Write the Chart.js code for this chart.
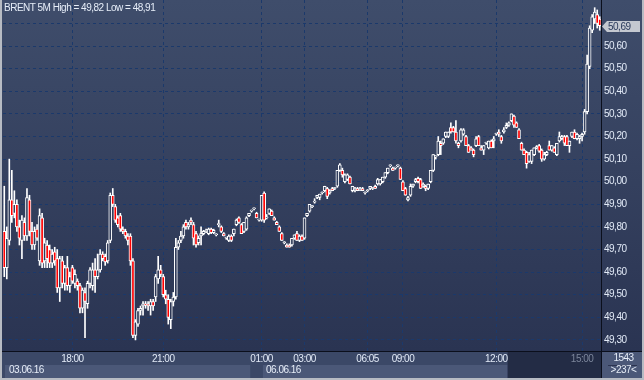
<!DOCTYPE html>
<html>
<head>
<meta charset="utf-8">
<script src="https://cdn.jsdelivr.net/npm/chart.js@4.4.1/dist/chart.umd.min.js"></script>
<style>
  html, body { margin: 0; padding: 0; background: #b7bbc3; }
  #wrap { position: relative; width: 644px; height: 380px; }
  #chart { position: absolute; left: 0; top: 0; }
  .txt { position: absolute; font-family: 'Liberation Sans', Arial, sans-serif; font-size: 10px;
         line-height: 12px; letter-spacing: -0.5px; color: #e6edf8; white-space: nowrap; }
</style>
</head>
<body>
<div id="wrap">
  <canvas id="chart" width="644" height="380"></canvas>
  <div class="txt" style="left:4px;top:2px">BRENT 5M High = 49,82 Low = 48,91</div>
  <div class="txt" style="left:9px;top:364px">03.06.16</div>
  <div class="txt" style="left:266px;top:364px">06.06.16</div>
  <div class="txt" style="left:603px;width:41px;text-align:center;top:352px">1543</div>
  <div style="position:absolute;left:608px;top:365px;width:29px;height:1px;background:#2b3350"></div>
  <div class="txt" style="left:603px;width:41px;text-align:center;top:364px">&gt;237&lt;</div>
</div>
<script>
// 5 minute candles, 15:40 on 03.06.16 .. 15:25 on 06.06.16
var opens = [
  49.78, 49.62, 49.74, 49.92, 49.86, 49.90, 49.80, 49.74, 49.82, 49.76,
  49.92, 49.78, 49.72, 49.79, 49.65, 49.84, 49.65, 49.72, 49.70, 49.64,
  49.69, 49.66, 49.53, 49.65, 49.55, 49.62, 49.54, 49.62, 49.55, 49.56,
  49.54, 49.44, 49.51, 49.46, 49.55, 49.54, 49.61, 49.58, 49.61, 49.68,
  49.67, 49.65, 49.74, 49.94, 49.89, 49.84, 49.85, 49.79, 49.78, 49.76,
  49.76, 49.65, 49.32, 49.37, 49.43, 49.45, 49.46, 49.46, 49.45, 49.47,
  49.49, 49.57, 49.61, 49.58, 49.50, 49.48, 49.39, 49.47, 49.49, 49.71,
  49.74, 49.76, 49.82, 49.80, 49.83, 49.81, 49.77, 49.73, 49.76, 49.77,
  49.78, 49.77, 49.79, 49.775, 49.765, 49.81, 49.80, 49.77, 49.75, 49.74,
  49.76, 49.77, 49.81, 49.84, 49.81, 49.78, 49.79, 49.85, 49.87, 49.88,
  49.86, 49.83, 49.83, 49.95, 49.84, 49.86, 49.87, 49.84, 49.82, 49.80,
  49.77, 49.73, 49.72, 49.72, 49.72, 49.75, 49.77, 49.74, 49.76, 49.75,
  49.85, 49.87, 49.89, 49.91, 49.93, 49.93, 49.95, 49.96, 49.97, 49.95,
  49.97, 49.97, 49.98, 50.05, 50.05, 50.00, 50.01, 50.02, 49.96, 49.965,
  49.97, 49.965, 49.97, 49.95, 49.96, 49.97, 49.97, 49.98, 49.99, 49.99,
  50.00, 50.02, 50.04, 50.07, 50.06, 50.06, 50.07, 50.06, 50.00, 49.97,
  49.92, 49.94, 49.98, 50.00, 50.015, 50.01, 49.98, 49.98, 49.97, 50.00,
  50.05, 50.11, 50.12, 50.17, 50.17, 50.20, 50.20, 50.24, 50.24, 50.22,
  50.17, 50.18, 50.21, 50.20, 50.16, 50.15, 50.14, 50.16, 50.20, 50.15,
  50.14, 50.17, 50.15, 50.18, 50.18, 50.21, 50.22, 50.20, 50.22, 50.24,
  50.25, 50.27, 50.29, 50.26, 50.23, 50.17, 50.14, 50.13, 50.09, 50.09,
  50.12, 50.15, 50.16, 50.14, 50.10, 50.12, 50.16, 50.14, 50.15, 50.12,
  50.18, 50.19, 50.20, 50.20, 50.16, 50.20, 50.22, 50.19, 50.19, 50.20,
  50.22, 50.31, 50.51, 50.67, 50.72, 50.74, 50.72
];
var highs = [
  49.98, 49.80, 50.10, 50.05, 49.96, 49.92, 49.83, 49.85, 49.84, 49.97,
  49.94, 49.82, 49.80, 49.81, 49.88, 49.86, 49.75, 49.74, 49.72, 49.70,
  49.71, 49.70, 49.67, 49.67, 49.63, 49.67, 49.60, 49.63, 49.61, 49.57,
  49.55, 49.53, 49.53, 49.56, 49.62, 49.64, 49.66, 49.68, 49.70, 49.69,
  49.68, 49.74, 49.95, 49.97, 49.90, 49.85, 49.86, 49.80, 49.79, 49.77,
  49.77, 49.66, 49.39, 49.44, 49.45, 49.47, 49.47, 49.47, 49.48, 49.48,
  49.59, 49.67, 49.63, 49.59, 49.52, 49.50, 49.48, 49.51, 49.75, 49.74,
  49.78, 49.81, 49.83, 49.82, 49.84, 49.82, 49.78, 49.76, 49.80, 49.785,
  49.79, 49.795, 49.795, 49.79, 49.77, 49.83, 49.805, 49.775, 49.755, 49.765,
  49.765, 49.79, 49.835, 49.845, 49.815, 49.82, 49.845, 49.86, 49.875, 49.885,
  49.865, 49.835, 49.94, 49.955, 49.855, 49.88, 49.875, 49.845, 49.825, 49.805,
  49.775, 49.735, 49.725, 49.725, 49.75, 49.765, 49.78, 49.765, 49.765, 49.84,
  49.86, 49.90, 49.895, 49.925, 49.94, 49.945, 49.955, 49.98, 49.975, 49.965,
  49.975, 49.975, 50.05, 50.08, 50.06, 50.035, 50.035, 50.025, 49.98, 49.975,
  49.975, 49.975, 49.975, 49.955, 49.965, 49.98, 49.975, 49.985, 50.015, 50.01,
  50.02, 50.04, 50.06, 50.075, 50.065, 50.065, 50.075, 50.065, 50.005, 49.975,
  49.935, 49.99, 49.99, 50.015, 50.02, 50.015, 49.995, 49.985, 49.99, 50.05,
  50.12, 50.115, 50.20, 50.18, 50.19, 50.22, 50.22, 50.26, 50.245, 50.27,
  50.175, 50.235, 50.235, 50.205, 50.165, 50.155, 50.145, 50.20, 50.205, 50.16,
  50.16, 50.175, 50.18, 50.185, 50.20, 50.215, 50.23, 50.205, 50.24, 50.26,
  50.265, 50.30, 50.295, 50.265, 50.235, 50.175, 50.145, 50.135, 50.13, 50.14,
  50.15, 50.16, 50.165, 50.145, 50.13, 50.135, 50.18, 50.16, 50.155, 50.17,
  50.22, 50.205, 50.205, 50.205, 50.18, 50.22, 50.23, 50.215, 50.205, 50.215,
  50.32, 50.56, 50.69, 50.74, 50.77, 50.76, 50.73
];
var lows = [
  49.58, 49.57, 49.72, 49.82, 49.84, 49.78, 49.72, 49.66, 49.74, 49.74,
  49.76, 49.70, 49.70, 49.74, 49.63, 49.62, 49.62, 49.62, 49.62, 49.62,
  49.63, 49.51, 49.47, 49.53, 49.52, 49.52, 49.51, 49.55, 49.53, 49.52,
  49.42, 49.42, 49.31, 49.44, 49.53, 49.52, 49.51, 49.57, 49.60, 49.65,
  49.63, 49.64, 49.73, 49.89, 49.82, 49.80, 49.78, 49.77, 49.75, 49.72,
  49.63, 49.31, 49.30, 49.36, 49.41, 49.41, 49.44, 49.43, 49.41, 49.43,
  49.47, 49.55, 49.58, 49.49, 49.46, 49.37, 49.35, 49.45, 49.48, 49.70,
  49.73, 49.75, 49.79, 49.79, 49.81, 49.72, 49.71, 49.72, 49.72, 49.765,
  49.775, 49.765, 49.77, 49.77, 49.76, 49.80, 49.775, 49.76, 49.745, 49.735,
  49.735, 49.76, 49.805, 49.815, 49.77, 49.775, 49.785, 49.845, 49.865, 49.875,
  49.84, 49.825, 49.825, 49.82, 49.835, 49.855, 49.85, 49.83, 49.81, 49.78,
  49.74, 49.725, 49.71, 49.71, 49.715, 49.745, 49.74, 49.735, 49.74, 49.745,
  49.845, 49.865, 49.885, 49.905, 49.925, 49.92, 49.945, 49.955, 49.925, 49.945,
  49.96, 49.965, 49.975, 50.045, 50.02, 49.995, 50.005, 49.99, 49.955, 49.955,
  49.96, 49.96, 49.96, 49.945, 49.955, 49.965, 49.965, 49.97, 49.985, 49.985,
  49.995, 50.015, 50.035, 50.065, 50.05, 50.055, 50.065, 50.01, 49.96, 49.94,
  49.915, 49.935, 49.975, 49.995, 49.995, 49.97, 49.975, 49.96, 49.965, 49.995,
  50.045, 50.10, 50.115, 50.12, 50.165, 50.195, 50.195, 50.215, 50.22, 50.17,
  50.15, 50.175, 50.205, 50.16, 50.13, 50.14, 50.11, 50.155, 50.16, 50.14,
  50.12, 50.165, 50.145, 50.15, 50.15, 50.205, 50.20, 50.17, 50.215, 50.235,
  50.245, 50.265, 50.24, 50.24, 50.19, 50.14, 50.12, 50.06, 50.085, 50.08,
  50.115, 50.145, 50.13, 50.09, 50.095, 50.115, 50.14, 50.135, 50.13, 50.115,
  50.175, 50.185, 50.16, 50.16, 50.13, 50.195, 50.19, 50.185, 50.17, 50.18,
  50.21, 50.30, 50.50, 50.66, 50.70, 50.68, 50.67
];
var closes = [
  49.62, 49.75, 49.92, 49.85, 49.90, 49.80, 49.75, 49.83, 49.76, 49.93,
  49.78, 49.72, 49.78, 49.75, 49.85, 49.64, 49.73, 49.66, 49.64, 49.68,
  49.65, 49.53, 49.66, 49.55, 49.62, 49.54, 49.58, 49.56, 49.59, 49.54,
  49.44, 49.52, 49.47, 49.55, 49.61, 49.61, 49.58, 49.61, 49.68, 49.66,
  49.645, 49.73, 49.94, 49.90, 49.83, 49.81, 49.79, 49.78, 49.76, 49.74,
  49.65, 49.32, 49.38, 49.43, 49.44, 49.46, 49.455, 49.45, 49.47, 49.45,
  49.58, 49.61, 49.59, 49.50, 49.48, 49.40, 49.47, 49.49, 49.71, 49.73,
  49.76, 49.80, 49.80, 49.81, 49.82, 49.75, 49.72, 49.75, 49.77, 49.78,
  49.785, 49.79, 49.775, 49.785, 49.765, 49.815, 49.78, 49.76, 49.75, 49.76,
  49.74, 49.79, 49.83, 49.82, 49.77, 49.82, 49.84, 49.86, 49.87, 49.88,
  49.84, 49.83, 49.94, 49.83, 49.84, 49.88, 49.85, 49.83, 49.81, 49.78,
  49.74, 49.73, 49.71, 49.71, 49.75, 49.765, 49.74, 49.76, 49.74, 49.84,
  49.86, 49.90, 49.89, 49.91, 49.94, 49.945, 49.95, 49.98, 49.935, 49.96,
  49.96, 49.97, 50.05, 50.075, 50.03, 50.03, 50.03, 49.99, 49.98, 49.97,
  49.96, 49.97, 49.96, 49.95, 49.96, 49.98, 49.97, 49.97, 50.01, 50.01,
  50.02, 50.04, 50.06, 50.07, 50.05, 50.06, 50.07, 50.01, 49.96, 49.94,
  49.93, 49.98, 49.99, 50.01, 50.00, 49.97, 49.99, 49.97, 49.99, 50.05,
  50.12, 50.11, 50.18, 50.16, 50.19, 50.22, 50.22, 50.22, 50.22, 50.18,
  50.16, 50.23, 50.23, 50.16, 50.13, 50.14, 50.12, 50.19, 50.16, 50.14,
  50.16, 50.17, 50.18, 50.15, 50.19, 50.21, 50.21, 50.18, 50.23, 50.25,
  50.26, 50.30, 50.25, 50.24, 50.19, 50.14, 50.12, 50.08, 50.12, 50.14,
  50.15, 50.155, 50.135, 50.10, 50.12, 50.13, 50.14, 50.16, 50.13, 50.17,
  50.20, 50.20, 50.17, 50.16, 50.18, 50.22, 50.19, 50.21, 50.20, 50.21,
  50.31, 50.52, 50.68, 50.73, 50.75, 50.70, 50.69
];

// time axis: which candle carries which label
var timeLabels = ['18:00', '21:00', '01:00', '03:00', '06:05', '09:00', '12:00', '15:00'];
var timeIndex = [27, 63, 102, 119, 144, 158, 195, 229];
var priceTicks = [49.3, 49.4, 49.5, 49.6, 49.7, 49.8, 49.9, 50.0, 50.1, 50.2, 50.3, 50.4, 50.5, 50.6, 50.7];

var dayBreak = 98;      // first candle of 06.06.16
var dayBandFrom = 102;  // date strip of the second day starts here
var lateFrom = 200;     // darker strip at the end of the time axis

var RED = '#ff0000';
var WHITE = '#ffffff';
var GRID = '#1b396b';
var LABEL = '#e2eaf7';
var FONT = { family: "'Liberation Sans', Arial, sans-serif", size: 10 };

function plotFill(chart) {
  var bottom = chart.chartArea ? chart.chartArea.bottom : 351;
  var g = chart.ctx.createLinearGradient(0, 0, 0, bottom);
  g.addColorStop(0, '#3f4d6b');
  g.addColorStop(1, '#2a3452');
  return g;
}

function fmt(v) {
  return v.toFixed(2).replace('.', ',');
}

var frame = {
  id: 'frame',
  beforeDraw: function(chart) {
    var ctx = chart.ctx, a = chart.chartArea, x = chart.scales.x;
    var W = chart.width, H = chart.height;
    var half = (x.getPixelForValue(1) - x.getPixelForValue(0)) / 2;
    ctx.save();
    ctx.fillStyle = plotFill(chart);
    ctx.fillRect(0, 0, W, a.bottom);
    ctx.fillStyle = '#3b4867';
    ctx.fillRect(0, a.bottom, W, H - a.bottom);
    var brk = x.getPixelForValue(dayBreak) - half;
    var mon = x.getPixelForValue(dayBandFrom) + half;
    var late = x.getPixelForValue(lateFrom) - half;
    ctx.fillStyle = '#4b5878';
    ctx.fillRect(5, 365, brk - 5, 13);
    ctx.fillRect(mon, 365, late - mon, 13);
    ctx.fillRect(a.right, a.bottom, W - a.right, H - a.bottom);
    ctx.fillStyle = '#232c45';
    ctx.fillRect(late, a.bottom, a.right - late, H - a.bottom);
    ctx.restore();
    ctx.letterSpacing = '-0.5px';
  },
  afterDraw: function(chart) {
    var ctx = chart.ctx, a = chart.chartArea, y = chart.scales.y;
    var W = chart.width, H = chart.height;
    ctx.save();
    ctx.fillStyle = '#0b0f1c';
    ctx.fillRect(a.right, 0, 1, H);
    ctx.fillRect(0, a.bottom, W, 1);
    ctx.fillStyle = '#b7bbc3';
    ctx.fillRect(0, 0, 2, H);
    ctx.fillRect(W - 2, 0, 2, H);
    ctx.fillRect(0, H - 2, W, 2);

    // last price tag
    var last = closes[closes.length - 1];
    var py = Math.round(y.getPixelForValue(last)) + 0.5;
    ctx.beginPath();
    ctx.moveTo(a.right + 1, py);
    ctx.lineTo(a.right + 6, py - 5.5);
    ctx.lineTo(W - 4, py - 5.5);
    ctx.lineTo(W - 4, py + 5.5);
    ctx.lineTo(a.right + 6, py + 5.5);
    ctx.closePath();
    ctx.fillStyle = '#c4c8d0';
    ctx.fill();
    ctx.fillStyle = '#2b3a5c';
    ctx.font = "10px 'Liberation Sans', Arial, sans-serif";
    ctx.textBaseline = 'middle';
    ctx.fillText(fmt(last), a.right + 7, py + 0.5);
    ctx.restore();
  }
};

new Chart(document.getElementById('chart'), {
  type: 'bar',
  data: {
    labels: closes.map(function(_, i) { return i; }),
    datasets: [
      {
        label: 'body',
        data: opens.map(function(o, i) { return [o, closes[i]]; }),
        backgroundColor: function(c) {
          return closes[c.dataIndex] < opens[c.dataIndex] ? RED : plotFill(c.chart);
        },
        borderColor: WHITE,
        borderWidth: 1,
        borderSkipped: false,
        barThickness: 3,
        minBarLength: 1,
        grouped: false,
        order: 1
      },
      {
        label: 'wick',
        data: lows.map(function(l, i) { return [l, highs[i]]; }),
        backgroundColor: WHITE,
        borderWidth: 0,
        barThickness: 1,
        grouped: false,
        order: 2
      }
    ]
  },
  options: {
    responsive: false,
    animation: false,
    events: [],
    layout: { padding: { left: 3, right: 2, top: 0, bottom: 2 } },
    plugins: { legend: { display: false }, tooltip: { enabled: false } },
    scales: {
      x: {
        offset: true,
        grid: { offset: false, color: GRID, lineWidth: 1, drawTicks: false },
        border: { display: false, dash: [3, 3] },
        ticks: {
          autoSkip: false, maxRotation: 0, padding: 2, font: FONT,
          color: function(c) { return c.index === timeLabels.length - 1 ? '#7c869b' : LABEL; },
          callback: function(v, i) { return timeLabels[i]; }
        },
        afterBuildTicks: function(s) {
          s.ticks = timeIndex.map(function(v) { return { value: v }; });
        },
        afterFit: function(s) { s.height = 27; s.paddingLeft = 0; s.paddingRight = 0; }
      },
      y: {
        position: 'right',
        min: 49.251,
        max: 50.804,
        grid: { color: GRID, lineWidth: 1, drawTicks: false },
        border: { display: false, dash: [3, 3] },
        ticks: {
          padding: 3, font: FONT, color: LABEL,
          callback: function(v) { return v > 50.65 ? '' : fmt(v); }
        },
        afterBuildTicks: function(s) {
          s.ticks = priceTicks.map(function(v) { return { value: v }; });
        },
        afterFit: function(s) { s.width = 41; s.paddingTop = 0; s.paddingBottom = 0; }
      }
    }
  },
  plugins: [frame]
});
</script>
</body>
</html>
